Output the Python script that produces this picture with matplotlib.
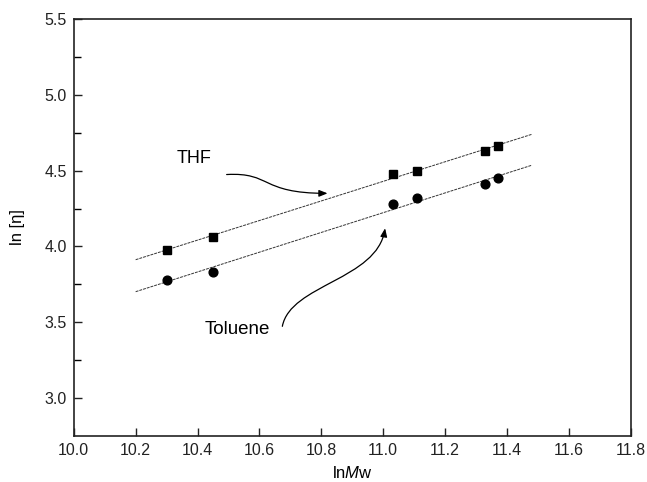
import matplotlib
matplotlib.use('Agg')
import matplotlib.pyplot as plt
import numpy as np
from matplotlib.path import Path
from matplotlib.patches import FancyArrowPatch

plt.rcParams['font.family'] = ['Liberation Sans', 'DejaVu Sans']
plt.rcParams['mathtext.fontset'] = 'custom'
plt.rcParams['mathtext.rm'] = 'Liberation Sans'
plt.rcParams['mathtext.it'] = 'Liberation Sans:italic'

# ln Mw of the samples
ln_mw = [10.30, 10.45, 11.03, 11.11, 11.33, 11.37]
# ln [eta] in each solvent
thf = [3.98, 4.06, 4.48, 4.50, 4.63, 4.66]
toluene = [3.78, 3.83, 4.28, 4.32, 4.41, 4.45]
fit_range = [10.2, 11.48]

fig = plt.figure(figsize=(6.47, 4.82), dpi=100)
ax = fig.add_axes([0.114, 0.095, 0.861, 0.866])

x_fit = np.array(fit_range)
for y, marker in [(thf, 's'), (toluene, 'o')]:
    k, b = np.polyfit(ln_mw, y, 1)
    ax.plot(x_fit, k * x_fit + b, color='#333333', lw=0.7, ls=(0, (3, 1)))
    ax.plot(ln_mw, y, marker, color='black', ms=6.3, ls='none')

ax.set_xlim(10.0, 11.8)
ax.set_ylim(2.75, 5.5)
ax.set_xticks(np.arange(10.0, 11.81, 0.2))
ax.set_yticks([3.0, 3.5, 4.0, 4.5, 5.0, 5.5])
ax.set_yticks(np.arange(3.25, 5.5, 0.5), minor=True)
ax.tick_params(direction='in', length=6, width=1, labelsize=11.5, colors='#222222', pad=5)
ax.tick_params(which='minor', direction='in', length=5, width=1)
for s in ax.spines.values():
    s.set_linewidth(1.2)
    s.set_color('#222222')

ax.set_xlabel(r'ln$\it{M}$w', fontsize=12, labelpad=5)
ax.set_ylabel('ln [η]', fontsize=12, labelpad=14)

# THF label with S-shaped arrow
ax.text(10.39, 4.58, 'THF', fontsize=13, ha='center', va='center')
p1 = Path([(10.494, 4.474), (10.64, 4.49), (10.60, 4.35), (10.82, 4.35)],
          [Path.MOVETO, Path.CURVE4, Path.CURVE4, Path.CURVE4])
ax.add_patch(FancyArrowPatch(path=p1, arrowstyle='-|>,head_length=5,head_width=2',
                             color='black', lw=0.9))

# Toluene label with curved arrow
ax.text(10.53, 3.45, 'Toluene', fontsize=13.5, ha='center', va='center')
p2 = Path([(10.674, 3.474), (10.70, 3.75), (10.98, 3.78), (11.006, 4.12)],
          [Path.MOVETO, Path.CURVE4, Path.CURVE4, Path.CURVE4])
ax.add_patch(FancyArrowPatch(path=p2, arrowstyle='-|>,head_length=5,head_width=2',
                             color='black', lw=0.9))

fig.savefig('out.png', dpi=100)
